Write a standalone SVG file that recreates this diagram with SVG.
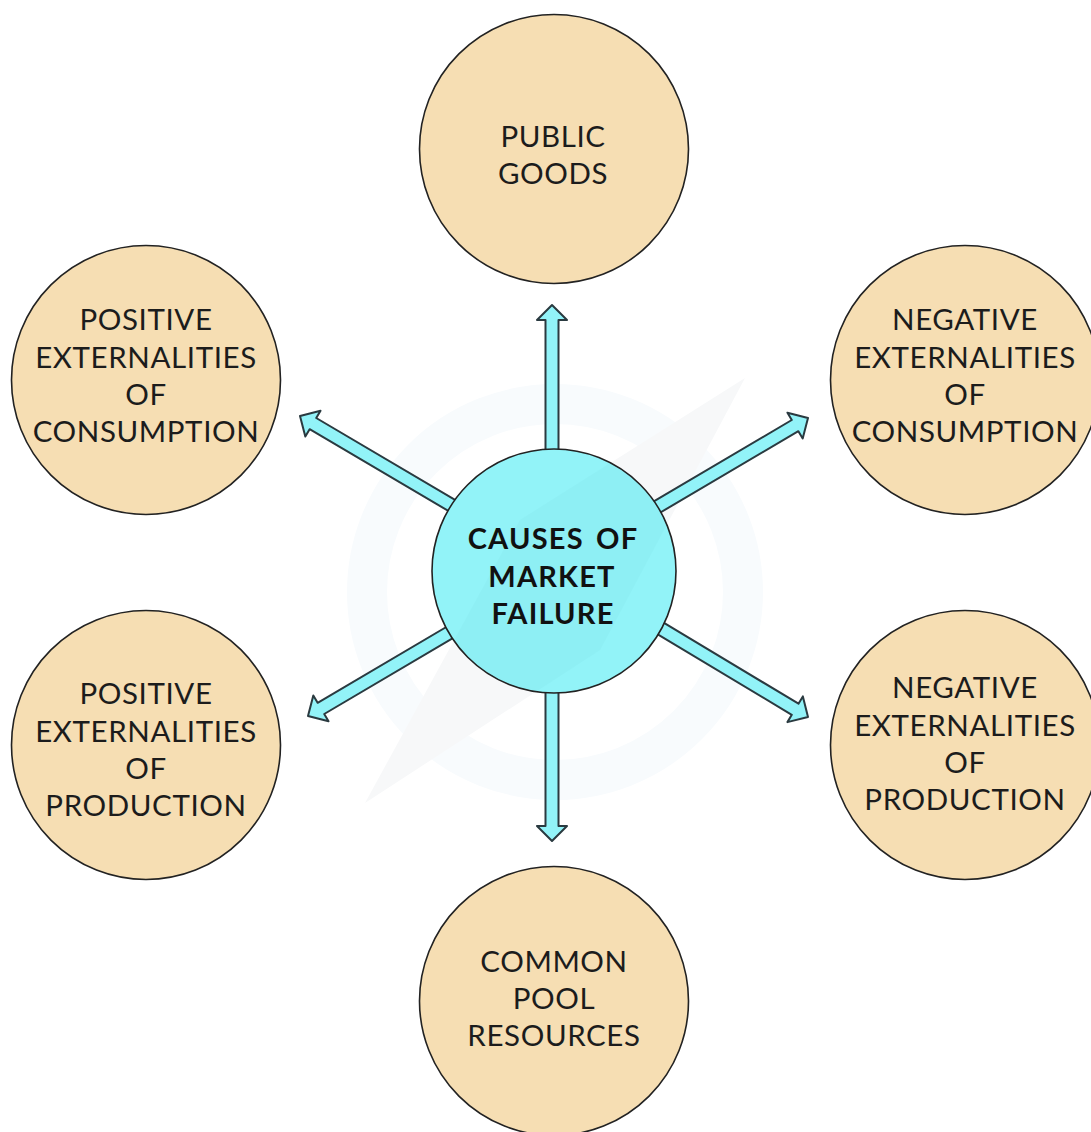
<svg xmlns="http://www.w3.org/2000/svg" width="1091" height="1132" viewBox="0 0 1091 1132">
<style>
.n{fill:#f6deb3;stroke:#222;stroke-width:1.6}
.c{fill:#92f3f8;stroke:#222;stroke-width:1.6}
.a{fill:#92f3f8;stroke:#2a3a40;stroke-width:2;stroke-linejoin:round}
text{font-family:"Lato","Liberation Sans",sans-serif;font-size:29.5px;fill:#1c1c1c;text-anchor:middle;letter-spacing:.6px}
.b{font-weight:700;font-size:29px;letter-spacing:1.2px;fill:#111}
</style>
<defs>
<polygon id="arrow" class="a" points="0,0 15,15 6.5,15 6.5,185 -6.5,185 -6.5,15 -15,15"/>
</defs>
<rect width="1091" height="1132" fill="#fff"/>
<g id="watermark">
<circle cx="555" cy="592" r="188" fill="none" stroke="#f8fbfd" stroke-width="40"/>
<polygon points="745,378 520,520 365,803 600,650" fill="#f7f8f9"/>
</g>
<g id="connectors">
<use href="#arrow" transform="translate(552,305)"/>
<use href="#arrow" transform="translate(552,841) rotate(180)"/>
<use href="#arrow" transform="translate(808,418) rotate(59.5)"/>
<use href="#arrow" transform="translate(300,416) rotate(-59.5)"/>
<use href="#arrow" transform="translate(308,716) rotate(239.5)"/>
<use href="#arrow" transform="translate(808,717) rotate(121)"/>
</g>
<g id="center">
<circle class="c" cx="554" cy="571" r="122"/>
<polygon points="745,378 520,520 365,803 600,650" fill="#7fdfe4" opacity=".18" clip-path="url(#cc)"/>
<text class="b" x="553" y="549" word-spacing="4px">CAUSES OF</text>
<text class="b" x="552" y="587">MARKET</text>
<text class="b" x="553" y="624">FAILURE</text>
</g>
<clipPath id="cc"><circle cx="554" cy="571" r="121"/></clipPath>
<g id="public-goods">
<circle class="n" cx="554" cy="149" r="134.500"/>
<text x="553" y="147">PUBLIC</text>
<text x="553" y="184">GOODS</text>
</g>
<g id="positive-consumption">
<circle class="n" cx="146" cy="380" r="134.500"/>
<text x="146" y="330">POSITIVE</text>
<text x="146" y="368">EXTERNALITIES</text>
<text x="146" y="405">OF</text>
<text x="146" y="442">CONSUMPTION</text>
</g>
<g id="negative-consumption">
<circle class="n" cx="965" cy="380" r="134.500"/>
<text x="965" y="330">NEGATIVE</text>
<text x="965" y="368">EXTERNALITIES</text>
<text x="965" y="405">OF</text>
<text x="965" y="442">CONSUMPTION</text>
</g>
<g id="positive-production">
<circle class="n" cx="146" cy="745" r="134.500"/>
<text x="146" y="704">POSITIVE</text>
<text x="146" y="742">EXTERNALITIES</text>
<text x="146" y="779">OF</text>
<text x="146" y="816">PRODUCTION</text>
</g>
<g id="negative-production">
<circle class="n" cx="965" cy="745" r="134.500"/>
<text x="965" y="698">NEGATIVE</text>
<text x="965" y="736">EXTERNALITIES</text>
<text x="965" y="773">OF</text>
<text x="965" y="810">PRODUCTION</text>
</g>
<g id="common-pool">
<circle class="n" cx="554" cy="1001" r="134.500"/>
<text x="554" y="972">COMMON</text>
<text x="554" y="1009">POOL</text>
<text x="554" y="1046">RESOURCES</text>
</g>
</svg>
